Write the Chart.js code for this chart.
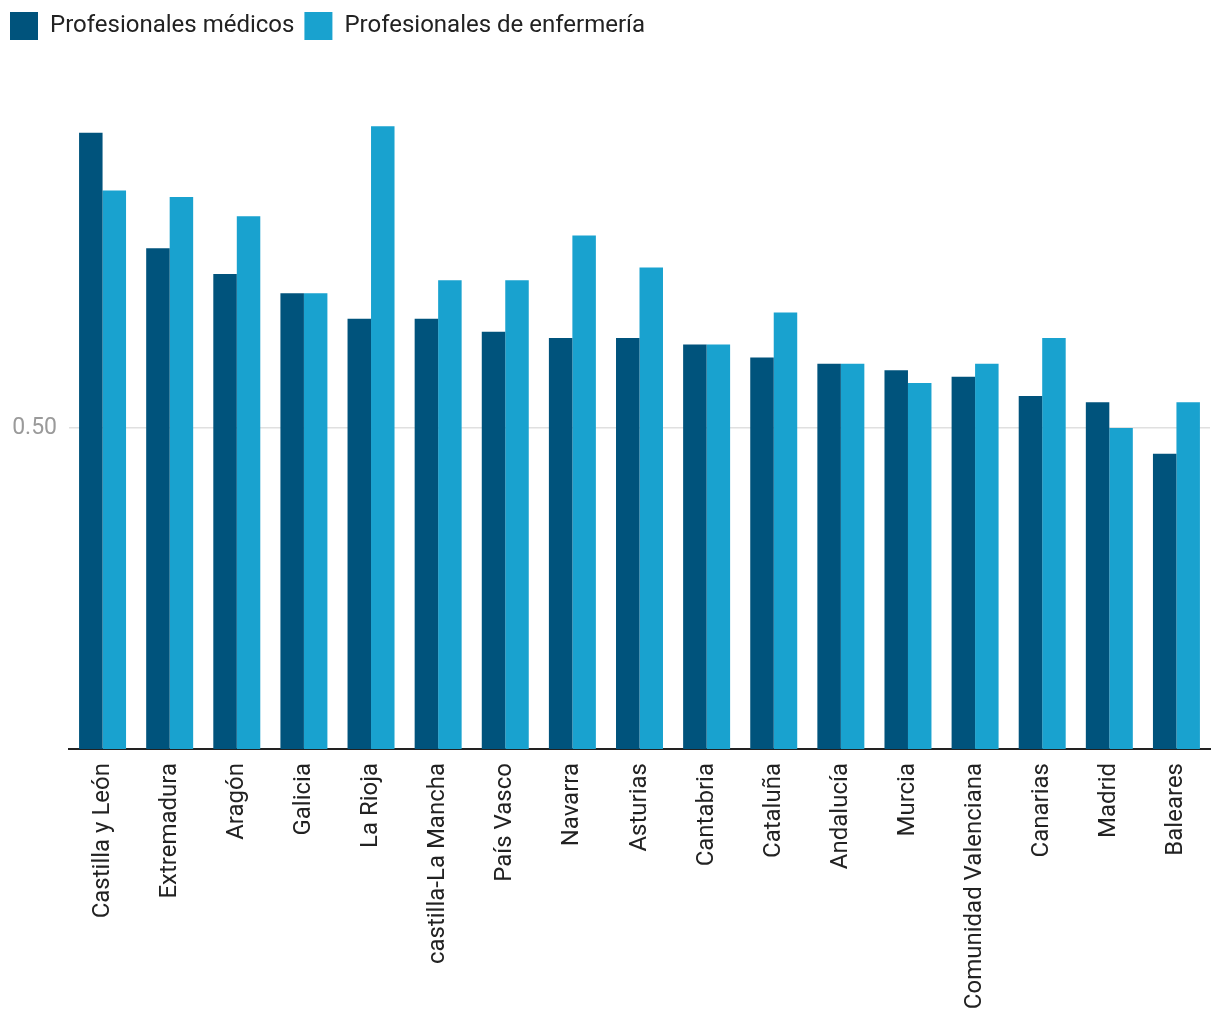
<!DOCTYPE html>
<html>
<head>
<meta charset="utf-8">
<script src="https://cdn.jsdelivr.net/npm/chart.js@4"></script>
<style>
  body { margin: 0; background: #fff; }
  #wrap { width: 1220px; height: 1020px; }
</style>
</head>
<body>
<div id="wrap"><canvas id="chart"></canvas></div>
<script>
// comunidades, ordered as in the picture
var regions = ["Castilla y León", "Extremadura", "Aragón", "Galicia", "La Rioja",
  "castilla-La Mancha", "País Vasco", "Navarra", "Asturias", "Cantabria", "Cataluña",
  "Andalucía", "Murcia", "Comunidad Valenciana", "Canarias", "Madrid", "Baleares"];

var medicos    = [0.96, 0.78, 0.74, 0.71, 0.67, 0.67, 0.65, 0.64, 0.64, 0.63, 0.61, 0.60, 0.59, 0.58, 0.55, 0.54, 0.46];
var enfermeria = [0.87, 0.86, 0.83, 0.71, 0.97, 0.73, 0.73, 0.80, 0.75, 0.63, 0.68, 0.60, 0.57, 0.60, 0.64, 0.50, 0.54];

var yTicks = [0.5];

// push the plot down below the legend
var legendGap = {
    id: 'legendGap',
    beforeInit: function(chart) {
        var fit = chart.legend.fit;
        chart.legend.fit = function() {
            fit.bind(chart.legend)();
            this.height = 105;
        };
    }
};

new Chart(document.getElementById('chart'), {
    type: 'bar',
    data: {
        labels: regions,
        datasets: [
            { label: "Profesionales médicos", data: medicos, backgroundColor: "#00537c",
              categoryPercentage: 0.7, barPercentage: 1.0 },
            { label: "Profesionales de enfermería", data: enfermeria, backgroundColor: "#19a2cf",
              categoryPercentage: 0.7, barPercentage: 1.0 }
        ]
    },
    plugins: [legendGap],
    options: {
        responsive: true,
        maintainAspectRatio: false,
        animation: false,
        devicePixelRatio: 1,
        layout: { padding: { left: 0, right: 10, top: 2, bottom: 12 } },
        plugins: {
            tooltip: { enabled: false },
            legend: {
                position: 'top',
                align: 'start',
                labels: {
                    boxWidth: 28,
                    boxHeight: 28,
                    padding: 10,
                    color: '#222',
                    font: { family: 'Roboto', size: 24 }
                }
            }
        },
        scales: {
            x: {
                afterFit: function(scale) { scale.height = 259; },
                grid: { display: false, drawTicks: false },
                border: { display: true, color: '#222', width: 2 },
                ticks: {
                    minRotation: 90,
                    maxRotation: 90,
                    padding: 14,
                    color: '#222',
                    font: { family: 'Roboto', size: 24 }
                }
            },
            y: {
                min: 0,
                max: 1,
                afterBuildTicks: function(scale) {
                    scale.ticks = yTicks.map(function(v) { return { value: v }; });
                },
                afterFit: function(scale) { scale.width = 69; },
                grid: { color: '#e0e0e0', lineWidth: 1.5, drawTicks: false },
                border: { display: false },
                ticks: {
                    padding: 12,
                    color: '#9a9a9a',
                    font: { family: 'Roboto', size: 23 },
                    callback: function(v) { return Number(v).toFixed(2); }
                }
            }
        }
    }
});
</script>
</body>
</html>
